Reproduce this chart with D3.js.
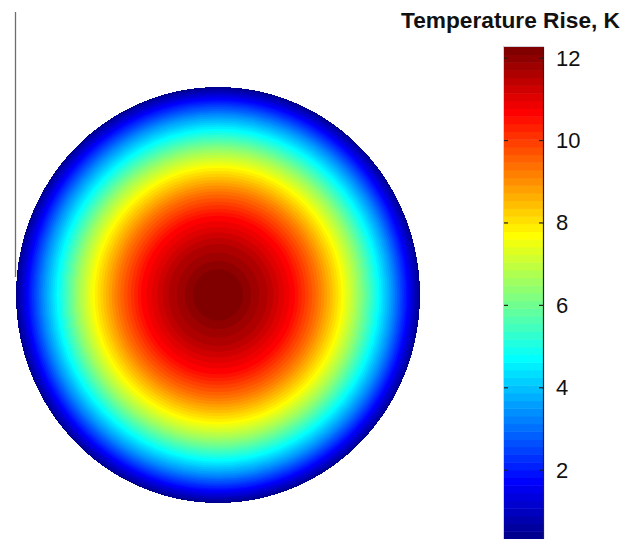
<!DOCTYPE html>
<html>
<head>
<meta charset="utf-8">
<script src="https://cdn.jsdelivr.net/npm/d3@7"></script>
<style>
  html, body { margin: 0; padding: 0; background: #fff; }
  svg { display: block; font-family: "Liberation Sans", Arial, sans-serif; }
</style>
</head>
<body>
<svg id="chart" width="640" height="539"></svg>
<script>
// radial temperature profile (r / R  ->  K)
var profileRadius = [0, 0.12, 0.25, 0.38, 0.49, 0.61, 0.69, 0.79, 0.86, 0.93, 1.0];
var profileTemp   = [12.27, 12.1, 11.5, 10.6, 9.4, 7.8, 6.6, 4.8, 3.5, 2.0, 0.38];
// colour axis
var colorLimits = [0.33, 12.27];
var colorTicks = [2, 4, 6, 8, 10, 12];
var nLevels = 64;
var titleText = "Temperature Rise, K";

var svg = d3.select("#chart");

// matlab jet(64), k = 0..63
function jet(k) {
	var i = k + 1;
	var r, g, b;
	if (i <= 8) { r = 0; g = 0; b = 0.5 + i / 16; }
	else if (i <= 24) { r = 0; g = (i - 8) / 16; b = 1; }
	else if (i <= 40) { r = (i - 24) / 16; g = 1; b = 1 - (i - 24) / 16; }
	else if (i <= 56) { r = 1; g = 1 - (i - 40) / 16; b = 0; }
	else { r = 1 - (i - 56) / 16; g = 0; b = 0; }
	return d3.rgb(r * 255, g * 255, b * 255).toString();
}

var step = (colorLimits[1] - colorLimits[0]) / nLevels;
function levelIndex(t) {
	return Math.max(0, Math.min(nLevels - 1, Math.floor((t - colorLimits[0]) / step)));
}

// ---- the disc ----
var cx = 218, cy = 295, rx = 202, ry = 208;
var radiusOf = d3.scaleLinear().domain(profileTemp).range(profileRadius).clamp(true);
var tEdge = profileTemp[profileTemp.length - 1];
var tCenter = profileTemp[0];

var rings = [{ s: 1, k: levelIndex(tEdge) }];
for (var k = 1; k < nLevels; k++) {
	var lev = colorLimits[0] + k * step;
	if (lev > tEdge && lev < tCenter) rings.push({ s: radiusOf(lev), k: k });
}

var disc = svg.append("g");
disc.selectAll("ellipse").data(rings).enter().append("ellipse")
	.attr("cx", cx).attr("cy", cy)
	.attr("rx", function(d) { return rx * d.s; })
	.attr("ry", function(d) { return ry * d.s; })
	.attr("fill", function(d) { return jet(d.k); })
	.attr("shape-rendering", function(d, i) { return i === 0 ? "crispEdges" : null; });

// thin leftover axis line at the left
svg.append("line")
	.attr("x1", 15.5).attr("x2", 15.5).attr("y1", 12).attr("y2", 277)
	.attr("stroke", "#6e6e6e").attr("stroke-width", 1.3);

// ---- colour bar ----
var barX = 504, barW = 39;
var cScale = d3.scaleLinear().domain(colorLimits).range([539, 47]);
var bands = d3.range(nLevels);
var bar = svg.append("g");
bar.selectAll("rect").data(bands).enter().append("rect")
	.attr("x", barX)
	.attr("width", barW)
	.attr("y", function(k) { return cScale(colorLimits[0] + (k + 1) * step); })
	.attr("height", function(k) { return cScale(colorLimits[0] + k * step) - cScale(colorLimits[0] + (k + 1) * step) + 0.5; })
	.attr("fill", function(k) { return jet(k); });

// faint box, dark right edge
bar.append("rect")
	.attr("x", barX - 0.5).attr("y", 46.5).attr("width", barW + 1).attr("height", 500)
	.attr("fill", "none").attr("stroke", "#c8c8d8").attr("stroke-width", 0.8);
bar.append("line")
	.attr("x1", barX + barW + 0.5).attr("x2", barX + barW + 0.5)
	.attr("y1", 47).attr("y2", 539)
	.attr("stroke", "#222").attr("stroke-width", 1.2);

bar.selectAll(".tl").data(colorTicks).enter().append("line").attr("class", "tl")
	.attr("x1", barX).attr("x2", barX + 4)
	.attr("y1", function(d) { return cScale(d); }).attr("y2", function(d) { return cScale(d); })
	.attr("stroke", "#222").attr("stroke-width", 1.2);
bar.selectAll(".tr").data(colorTicks).enter().append("line").attr("class", "tr")
	.attr("x1", barX + barW - 4).attr("x2", barX + barW)
	.attr("y1", function(d) { return cScale(d); }).attr("y2", function(d) { return cScale(d); })
	.attr("stroke", "#222").attr("stroke-width", 1.2);

var axis = svg.append("g")
	.attr("transform", "translate(" + (barX + barW) + ",0)")
	.call(d3.axisRight(cScale).tickValues(colorTicks).tickSize(0).tickPadding(13));
axis.select(".domain").remove();
axis.selectAll("text")
	.attr("font-family", "Liberation Sans, Arial, sans-serif")
	.attr("font-size", 22)
	.attr("fill", "#111");

svg.append("text")
	.attr("x", 620).attr("y", 28)
	.attr("text-anchor", "end")
	.attr("font-weight", "bold")
	.attr("font-size", 21.5)
	.attr("textLength", 219)
	.attr("lengthAdjust", "spacingAndGlyphs")
	.attr("fill", "#111")
	.text(titleText);
</script>
</body>
</html>
